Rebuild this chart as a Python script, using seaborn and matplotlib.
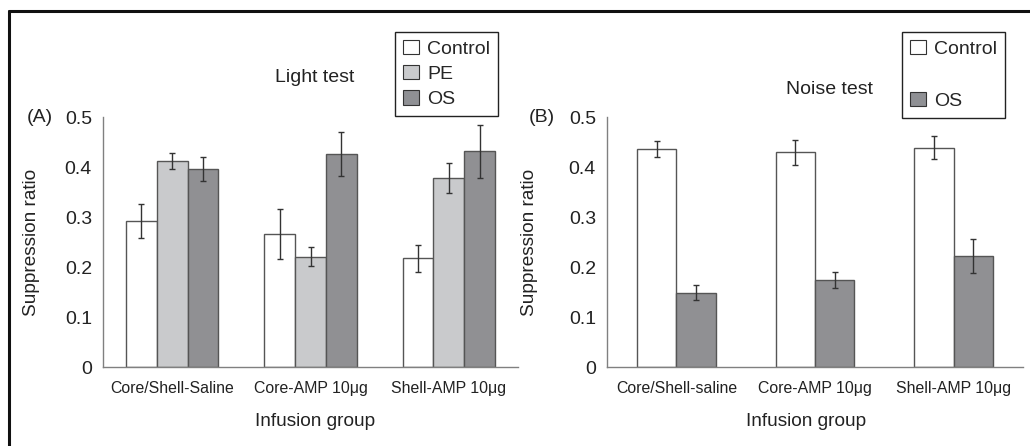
import pandas as pd
import matplotlib.pyplot as plt
import seaborn as sns
from matplotlib.patches import Patch
from matplotlib.lines import Line2D
from matplotlib.ticker import FuncFormatter

# data
groups_a = ['Core/Shell-Saline', 'Core-AMP 10\u03bcg', 'Shell-AMP 10\u03bcg']
groups_b = ['Core/Shell-saline', 'Core-AMP 10\u03bcg', 'Shell-AMP 10\u03bcg']

ctrl_a = [0.293, 0.267, 0.218]
ctrl_a_err = [0.034, 0.050, 0.027]
pe_a = [0.412, 0.221, 0.378]
pe_a_err = [0.016, 0.019, 0.030]
os_a = [0.396, 0.426, 0.432]
os_a_err = [0.024, 0.044, 0.053]

ctrl_b = [0.437, 0.430, 0.439]
ctrl_b_err = [0.016, 0.025, 0.023]
os_b = [0.149, 0.174, 0.223]
os_b_err = [0.015, 0.016, 0.034]

colors = {'Control': '#ffffff', 'PE': '#c9cacc', 'OS': '#8f9094'}

df_a = pd.DataFrame({
    'group': groups_a * 3,
    'cond': ['Control'] * 3 + ['PE'] * 3 + ['OS'] * 3,
    'ratio': ctrl_a + pe_a + os_a,
    'err': ctrl_a_err + pe_a_err + os_a_err,
})
df_b = pd.DataFrame({
    'group': groups_b * 2,
    'cond': ['Control'] * 3 + ['OS'] * 3,
    'ratio': ctrl_b + os_b,
    'err': ctrl_b_err + os_b_err,
})

sns.set_style('white')
plt.rcParams['font.family'] = ['Liberation Sans', 'DejaVu Sans']

fig = plt.figure(figsize=(10.3, 4.46), dpi=100)
W, H = 1030, 446
ax_a = fig.add_axes([103 / W, 1 - 367 / H, 415 / W, 250 / H])
ax_b = fig.add_axes([607 / W, 1 - 367 / H, 416 / W, 250 / H])


def draw(ax, df, groups, conds, width):
    sns.barplot(data=df, x='group', y='ratio', hue='cond', order=groups,
                hue_order=conds, palette=colors, width=width, errorbar=None,
                edgecolor='#555555', linewidth=1.0, legend=False, ax=ax)
    # error bars on each bar
    for cont, c in zip(ax.containers, conds):
        sub = df[df['cond'] == c].set_index('group').loc[groups]
        xs = [b.get_x() + b.get_width() / 2 for b in cont]
        ax.errorbar(xs, sub['ratio'], yerr=sub['err'], fmt='none',
                    ecolor='#333333', elinewidth=1.0, capsize=2.5, capthick=1.0)
    ax.set_ylim(0, 0.5)
    ax.set_xlim(-0.5, 2.5)
    ax.set_yticks([0, 0.1, 0.2, 0.3, 0.4, 0.5])
    ax.yaxis.set_major_formatter(FuncFormatter(lambda v, p: '0' if v == 0 else f'{v:.1f}'))
    ax.set_xticks([-0.5, 0.5, 1.5, 2.5], minor=True)
    ax.tick_params(axis='x', which='major', length=0, pad=10, labelsize=11.4, labelcolor='#222222')
    ax.tick_params(axis='x', which='minor', length=5, width=1, color='#808080', direction='out')
    ax.tick_params(axis='y', length=5, width=1, color='#808080', direction='out',
                   labelsize=14, labelcolor='#222222', pad=3)
    sns.despine(ax=ax)
    for s in ['left', 'bottom']:
        ax.spines[s].set_color('#808080')
        ax.spines[s].set_linewidth(1.0)
    ax.set_ylabel('Suppression ratio', fontsize=13.7, color='#222222')
    ax.set_xlabel('Infusion group', fontsize=13.7, color='#222222')


draw(ax_a, df_a, groups_a, ['Control', 'PE', 'OS'], 0.667)
draw(ax_b, df_b, groups_b, ['Control', 'OS'], 0.565)

ax_a.yaxis.set_label_coords(-0.152, 0.5)
ax_a.xaxis.set_label_coords(0.51, -0.185)
ax_b.yaxis.set_label_coords(-0.166, 0.5)
ax_b.xaxis.set_label_coords(0.478, -0.185)

# panel labels and titles
fig.text(40 / W, 1 - 117 / H, '(A)', fontsize=14, ha='center', va='center', color='#222222')
fig.text(542 / W, 1 - 117 / H, '(B)', fontsize=14, ha='center', va='center', color='#222222')
fig.text(315 / W, 1 - 77 / H, 'Light test', fontsize=14, ha='center', va='center', color='#222222')
fig.text(829 / W, 1 - 90 / H, 'Noise test', fontsize=14, ha='center', va='center', color='#222222')

# legends
def handle(c):
    return Patch(facecolor=colors[c], edgecolor='#333333', linewidth=0.8)

leg_kw = dict(loc='upper left', fontsize=14, fancybox=False, framealpha=1,
              edgecolor='#222222', handlelength=0.85, handleheight=0.75,
              handletextpad=0.4, borderpad=0.4, borderaxespad=0)
leg_a = fig.legend([handle('Control'), handle('PE'), handle('OS')],
                   ['Control', 'PE', 'OS'], bbox_to_anchor=(395 / W, 1 - 32 / H),
                   labelspacing=0.38, **leg_kw)
leg_a.get_frame().set_linewidth(1.0)
blank = Patch(facecolor='none', edgecolor='none')
leg_b = fig.legend([handle('Control'), blank, handle('OS')],
                   ['Control', ' ', 'OS'], bbox_to_anchor=(902 / W, 1 - 32 / H),
                   labelspacing=0.42, **leg_kw)
leg_b.get_frame().set_linewidth(1.0)

# frame lines at top and left of the figure
fig.add_artist(Line2D([8.5 / W, 1], [1 - 10.5 / H, 1 - 10.5 / H], color='#111111', lw=2.2))
fig.add_artist(Line2D([8.5 / W, 8.5 / W], [0, 1 - 10.5 / H], color='#111111', lw=2.2))

fig.savefig('out.png', dpi=100)
